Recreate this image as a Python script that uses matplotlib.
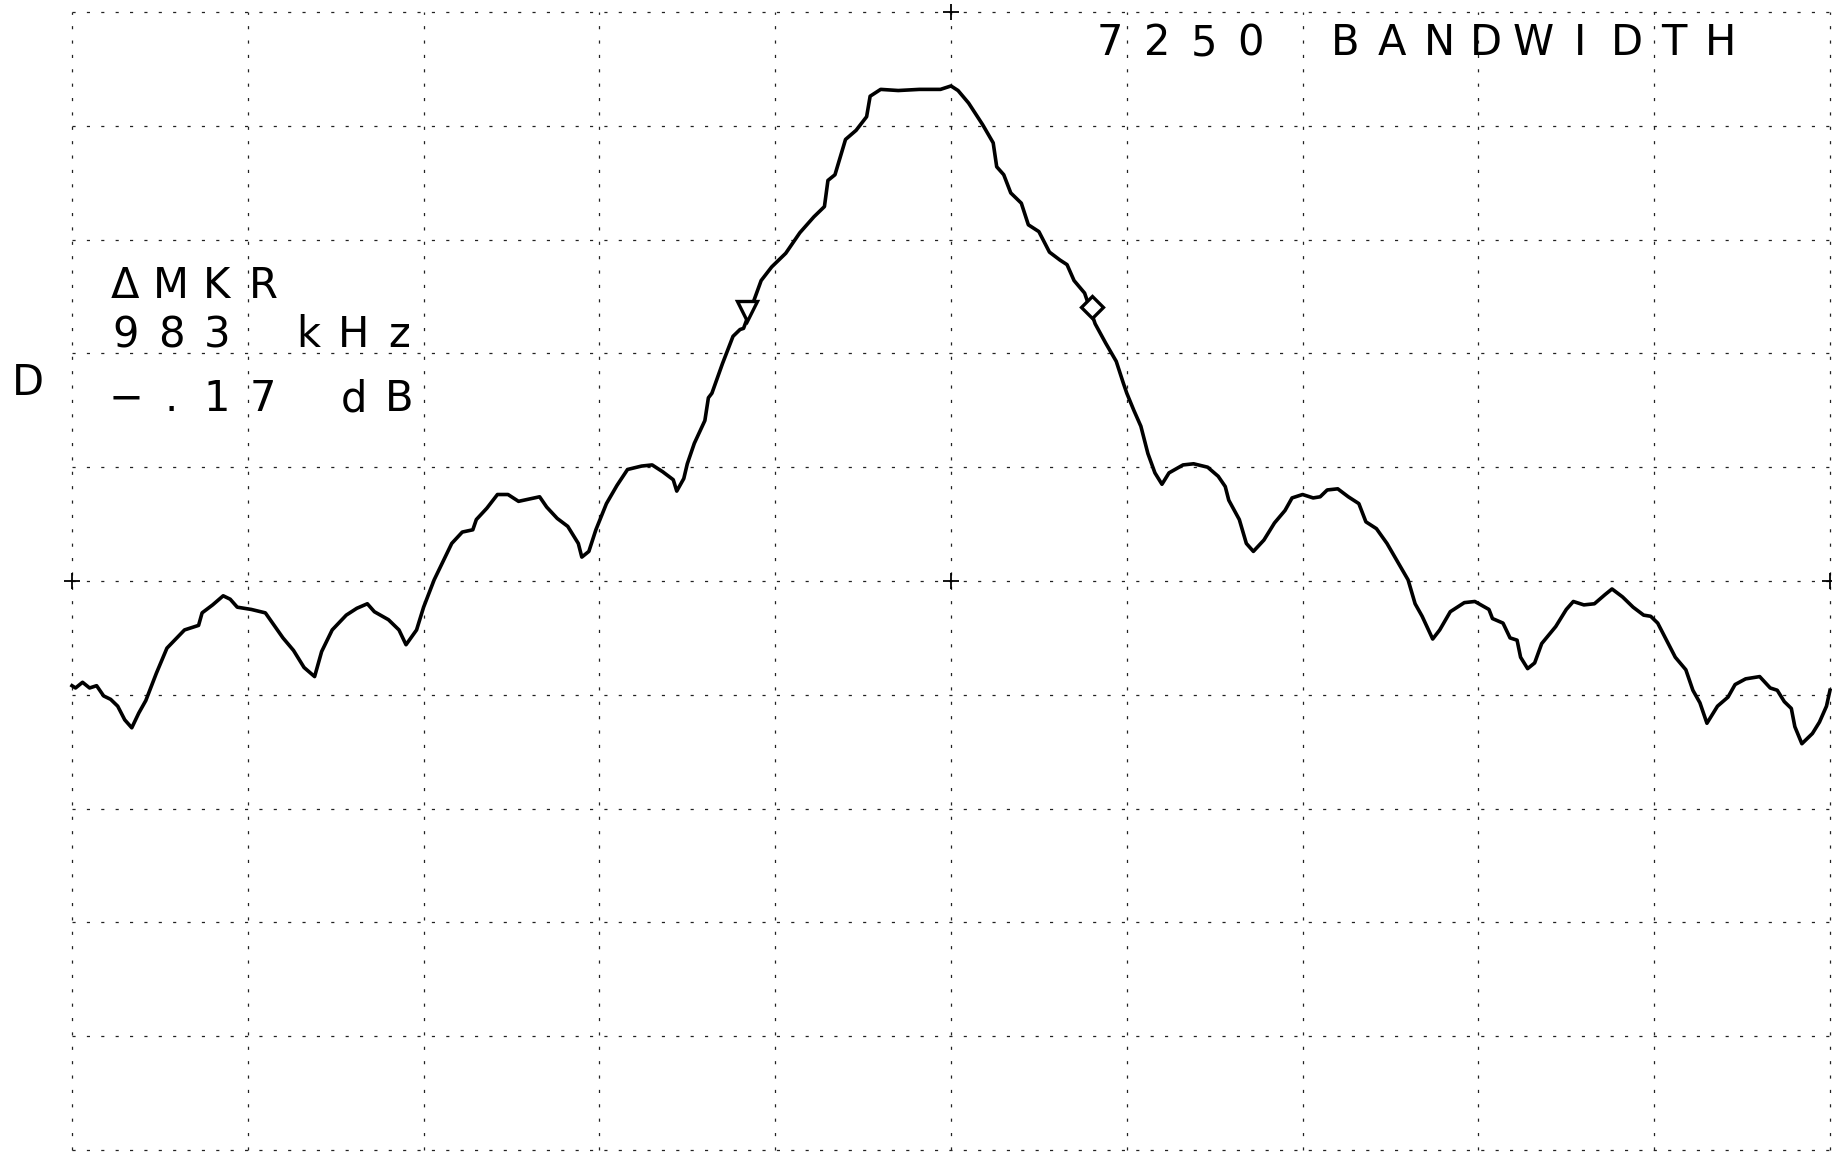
import matplotlib
matplotlib.use("Agg")
import matplotlib.pyplot as plt

# spectrum analyzer trace, 0.5 MHz/div, 10 dB/div, ref 0 dB at top
freq_mhz = [
    -2.50, -2.49, -2.47, -2.45, -2.43, -2.41, -2.39, -2.37, -2.35, -2.33,
    -2.31, -2.29, -2.26, -2.23, -2.18, -2.14, -2.13, -2.10, -2.07, -2.05,
    -2.03, -1.99, -1.95, -1.90, -1.87, -1.84, -1.81, -1.79, -1.76, -1.72,
    -1.69, -1.66, -1.64, -1.60, -1.57, -1.55, -1.52, -1.50, -1.47, -1.42,
    -1.39, -1.36, -1.35, -1.32, -1.29, -1.26, -1.23, -1.20, -1.17, -1.15,
    -1.12, -1.09, -1.06, -1.05, -1.03, -1.01, -0.98, -0.95, -0.92, -0.88,
    -0.85, -0.82, -0.79, -0.78, -0.76, -0.75, -0.73, -0.70, -0.69, -0.68,
    -0.65, -0.62, -0.60, -0.59, -0.56, -0.54, -0.51, -0.47, -0.43, -0.39,
    -0.36, -0.35, -0.33, -0.30, -0.27, -0.24, -0.23, -0.20, -0.15, -0.09,
    -0.03, 0.00, 0.02, 0.05, 0.09, 0.12, 0.13, 0.15, 0.17, 0.20,
    0.22, 0.25, 0.28, 0.31, 0.33, 0.35, 0.38, 0.41, 0.44, 0.47,
    0.49, 0.50, 0.52, 0.54, 0.56, 0.58, 0.60, 0.62, 0.66, 0.69,
    0.73, 0.76, 0.78, 0.79, 0.82, 0.84, 0.86, 0.89, 0.92, 0.95,
    0.97, 1.00, 1.03, 1.05, 1.07, 1.10, 1.13, 1.16, 1.18, 1.21,
    1.24, 1.27, 1.30, 1.32, 1.34, 1.37, 1.39, 1.42, 1.46, 1.49,
    1.53, 1.54, 1.57, 1.59, 1.61, 1.62, 1.64, 1.66, 1.68, 1.72,
    1.75, 1.77, 1.80, 1.83, 1.86, 1.88, 1.91, 1.94, 1.97, 1.99,
    2.01, 2.03, 2.06, 2.09, 2.11, 2.13, 2.15, 2.18, 2.21, 2.23,
    2.26, 2.30, 2.33, 2.35, 2.37, 2.39, 2.40, 2.42, 2.45, 2.47,
    2.49, 2.50,
]
level_db = [
    -59.2, -59.4, -58.9, -59.4, -59.2, -60.1, -60.4, -61.0, -62.2, -62.9,
    -61.6, -60.5, -58.1, -55.9, -54.3, -53.9, -52.8, -52.1, -51.3, -51.6,
    -52.3, -52.5, -52.8, -55.0, -56.1, -57.6, -58.4, -56.2, -54.3, -53.0,
    -52.4, -52.0, -52.7, -53.4, -54.3, -55.6, -54.3, -52.3, -49.9, -46.7,
    -45.7, -45.5, -44.6, -43.6, -42.4, -42.4, -43.0, -42.8, -42.6, -43.5,
    -44.5, -45.2, -46.7, -47.9, -47.4, -45.5, -43.2, -41.6, -40.2, -39.9,
    -39.8, -40.4, -41.1, -42.1, -41.0, -39.7, -37.9, -35.9, -33.9, -33.5,
    -30.9, -28.5, -27.9, -27.8, -25.3, -23.6, -22.4, -21.2, -19.4, -18.0,
    -17.1, -14.8, -14.3, -11.2, -10.4, -9.2, -7.4, -6.8, -6.9, -6.8,
    -6.8, -6.5, -6.9, -8.0, -9.9, -11.5, -13.6, -14.3, -15.9, -16.8,
    -18.7, -19.3, -21.1, -21.8, -22.2, -23.6, -24.7, -27.4, -29.1, -30.7,
    -32.6, -33.5, -35.0, -36.4, -38.8, -40.5, -41.5, -40.5, -39.8, -39.7,
    -40.0, -40.8, -41.7, -42.9, -44.6, -46.7, -47.4, -46.4, -44.9, -43.8,
    -42.7, -42.4, -42.7, -42.6, -42.0, -41.9, -42.6, -43.2, -44.8, -45.4,
    -46.7, -48.3, -49.9, -52.0, -53.1, -55.1, -54.3, -52.7, -51.9, -51.8,
    -52.5, -53.3, -53.7, -55.0, -55.2, -56.7, -57.7, -57.2, -55.5, -54.0,
    -52.5, -51.8, -52.1, -52.0, -51.2, -50.7, -51.4, -52.3, -53.0, -53.1,
    -53.7, -54.9, -56.7, -57.8, -59.6, -60.7, -62.5, -61.0, -60.2, -59.1,
    -58.6, -58.4, -59.4, -59.6, -60.6, -61.2, -62.8, -64.3, -63.4, -62.4,
    -61.0, -59.6,
]

# the two markers (983 kHz apart)
mkr_freq = [-0.58, 0.40]
mkr_level = [-26.3, -25.9]
mkr_style = ["v", "D"]

title_text = "7250 BANDWIDTH"
readout_lines = ["\u0394MKR", "983 kHz", "\u2212.17 dB"]
side_letter = "D"

W, H = 1832, 1156
fig = plt.figure(figsize=(W / 100, H / 100), dpi=100)
fig.patch.set_facecolor("white")

ax = fig.add_axes([72 / W, 1 - 1150 / H, 1758 / W, 1138 / H])
ax.set_xlim(-2.5, 2.5)
ax.set_ylim(-100, 0)
ax.axis("off")

# graticule: 10 x 10 divisions, broken/dashed like the plotter output
for i in range(11):
    fx = -2.5 + 0.5 * i
    ax.plot([fx, fx], [-100, 0], color="#222222", lw=0.9,
            dashes=(2.5, 9), zorder=1, clip_on=False)
    ly = -10.0 * i
    ax.plot([-2.5, 2.5], [ly, ly], color="#222222", lw=0.9,
            dashes=(2.5, 9), zorder=1, clip_on=False)

# small crosses on the centre graticule lines
ax.plot([-2.5, 0, 2.5, 0], [-50, -50, -50, 0], ls="none", marker="+",
        ms=12, mew=1.3, color="black", zorder=2, clip_on=False)

# trace
ax.plot(freq_mhz, level_db, color="black", lw=2.6, solid_joinstyle="round",
        zorder=3, clip_on=False)

# markers
for fx, lv, m in zip(mkr_freq, mkr_level, mkr_style):
    ax.plot(fx, lv, marker=m, ms=15 if m == "v" else 11, mfc="white",
            mec="black", mew=2.4, ls="none", zorder=4)


def plotter_text(x, y, s, pitch, size=30):
    # plotter lettering: fixed character pitch, x = centre of first char (px),
    # y = baseline (px from top)
    for i, ch in enumerate(s):
        if ch == " ":
            continue
        fig.text((x + i * pitch) / W, 1 - y / H, ch, ha="center",
                 va="baseline", fontsize=size, family="DejaVu Sans",
                 color="black")


plotter_text(1110, 55, title_text, 47)
plotter_text(125, 298, readout_lines[0], 46)
plotter_text(126, 347, readout_lines[1], 45.5)
plotter_text(126, 411, readout_lines[2], 45.5)
plotter_text(28, 395, side_letter, 46)

fig.savefig("out.png", dpi=100, facecolor="white")
